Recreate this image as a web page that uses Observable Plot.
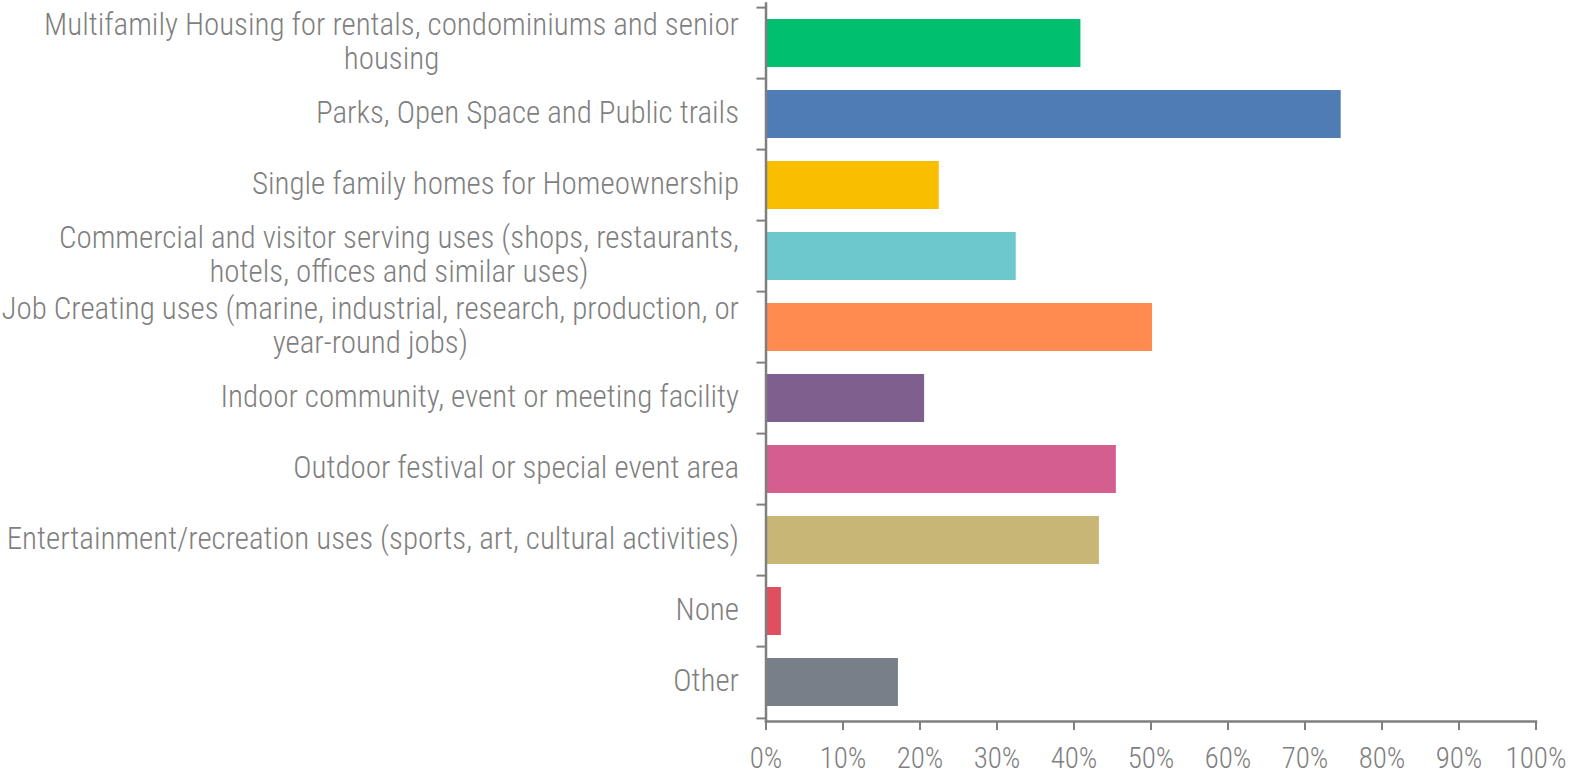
<!DOCTYPE html>
<html><head><meta charset="utf-8">
<script src="https://cdn.jsdelivr.net/npm/d3@7"></script>
<script src="https://cdn.jsdelivr.net/npm/@observablehq/plot@0.6"></script>
<style>body{margin:0;background:#fff} svg{display:block}</style>
</head><body><div id="chart"></div>
<script>
const categories = ["Multifamily", "Parks", "Single family", "Commercial", "Job Creating", "Indoor", "Outdoor", "Entertainment", "None", "Other"];
const labels = [
  "Multifamily Housing for rentals, condominiums and senior\nhousing",
  "Parks, Open Space and Public trails",
  "Single family homes for Homeownership",
  "Commercial and visitor serving uses (shops, restaurants,\nhotels, offices and similar uses)",
  "Job Creating uses (marine, industrial, research, production, or\nyear-round jobs)",
  "Indoor community, event or meeting facility",
  "Outdoor festival or special event area",
  "Entertainment/recreation uses (sports, art, cultural activities)",
  "None",
  "Other"
];
const values = [40.9, 74.7, 22.5, 32.5, 50.2, 20.6, 45.5, 43.3, 2.0, 17.2];
const colors = ["#00BF6F", "#4F7CB5", "#F9BE00", "#6CC8CD", "#FF8B50", "#7E5F8E", "#D45F8F", "#C8B677", "#E04F60", "#778088"];
const xTicks = [0, 10, 20, 30, 40, 50, 60, 70, 80, 90, 100];

const W = 1571, H = 773, mL = 765.5, mR = 35.5, mT = 3, mB = 52;
const step = (H - mT - mB) / categories.length;
const data = categories.map((c, i) => ({category: c, value: values[i]}));
const FONT = "'Roboto Condensed', Roboto, sans-serif";
const gray = "#7f7f7f";

const chart = Plot.plot({
  width: W, height: H,
  marginLeft: mL, marginRight: mR, marginTop: mT, marginBottom: mB,
  style: {fontFamily: FONT, fontSize: "31px", fontWeight: 300, color: gray, background: "#fff", overflow: "visible"},
  x: {domain: [0, 100]},
  y: {domain: categories, paddingInner: 0.33, paddingOuter: 0.165},
  color: {domain: categories, range: colors},
  marks: [
    Plot.barX(data, {x: "value", y: "category", fill: "category"}),
    Plot.frame({anchor: "left", stroke: gray, strokeWidth: 2.5}),
    Plot.frame({anchor: "bottom", stroke: gray, strokeWidth: 2.5}),
    Plot.axisX({ticks: xTicks, tickFormat: d => d + "%", tickSize: 9, tickPadding: 17, fontSize: 29, stroke: gray, strokeWidth: 2, label: null}),
    Plot.axisY({tickSize: 0, tickPadding: 27, dy: -2.6, tickFormat: c => labels[categories.indexOf(c)], lineHeight: 1.097, label: null}),
    Plot.axisY({tickSize: 9, fill: "none", dy: -step / 2, stroke: gray, strokeWidth: 2, label: null}),
    Plot.axisY([categories[categories.length - 1]], {tickSize: 9, fill: "none", dy: step / 2, stroke: gray, strokeWidth: 2, label: null})
  ]
});
document.getElementById("chart").append(chart);
chart.querySelectorAll('g[aria-label="y-axis tick label"] text').forEach(t => {
  if (t.querySelectorAll("tspan").length > 1) {
    const w = t.getBBox().width;
    t.setAttribute("text-anchor", "middle");
    t.setAttribute("transform", (t.getAttribute("transform") || "") + ` translate(${-w / 2},0)`);
  }
});
</script>
</body></html>
